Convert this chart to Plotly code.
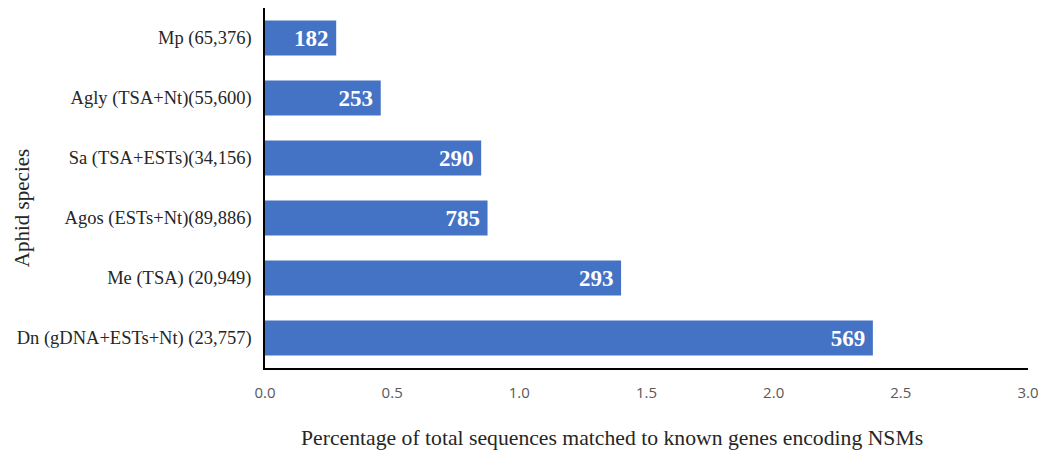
import plotly.graph_objects as go

# Aphid species with total sequence counts, bottom to top
species = [
    "Dn (gDNA+ESTs+Nt) (23,757)",
    "Me (TSA) (20,949)",
    "Agos (ESTs+Nt)(89,886)",
    "Sa (TSA+ESTs)(34,156)",
    "Agly (TSA+Nt)(55,600)",
    "Mp (65,376)",
]
# Percentage of sequences matched to NSM genes
percent_matched = [2.39, 1.40, 0.875, 0.85, 0.455, 0.28]
# Number of matched sequences (bar labels)
matched_counts = [569, 293, 785, 290, 253, 182]

x_title = "Percentage of total sequences matched to known genes encoding NSMs"
y_title = "Aphid species"

serif = "Liberation Serif, Times New Roman, serif"
sans = "Open Sans, Liberation Sans, sans-serif"

fig = go.Figure(
    go.Bar(
        x=percent_matched,
        y=species,
        orientation="h",
        marker=dict(color="#4472C4", line=dict(width=0)),
        width=0.58,
        text=[f"{c}\u2009" for c in matched_counts],
        textposition="inside",
        insidetextanchor="end",
        textangle=0,
        textfont=dict(family=serif, size=23, color="white", weight="bold"),
        cliponaxis=False,
    )
)

fig.update_layout(
    width=1043,
    height=450,
    margin=dict(l=265, r=15, t=8, b=82),
    paper_bgcolor="white",
    plot_bgcolor="white",
    showlegend=False,
    uniformtext=dict(mode=False),
    xaxis=dict(
        range=[0, 3.0],
        tickvals=[0, 0.5, 1.0, 1.5, 2.0, 2.5, 3.0],
        ticktext=["0.0", "0.5", "1.0", "1.5", "2.0", "2.5", "3.0"],
        tickfont=dict(family=sans, size=15, color="#595959"),
        showgrid=False,
        zeroline=False,
        showline=True,
        linecolor="black",
        linewidth=1.5,
        ticks="",
        ticklabelstandoff=10,
        automargin=False,
    ),
    yaxis=dict(
        categoryorder="array",
        categoryarray=species,
        range=[-0.5, 5.5],
        tickfont=dict(family=serif, size=18.5, color="#262626"),
        showgrid=False,
        zeroline=False,
        showline=True,
        linecolor="black",
        linewidth=1.5,
        ticks="",
        ticklabelstandoff=8,
        automargin=False,
    ),
    annotations=[
        dict(
            text=x_title,
            xref="paper", yref="paper",
            x=0.455, y=0,
            xanchor="center", yanchor="middle",
            yshift=-70,
            showarrow=False,
            font=dict(family=serif, size=21.7, color="#262626"),
        ),
        dict(
            text=y_title,
            xref="paper", yref="paper",
            x=0, y=0.444,
            xanchor="center", yanchor="middle",
            xshift=-243,
            textangle=-90,
            showarrow=False,
            font=dict(family=serif, size=21, color="#262626"),
        ),
    ],
)

fig.write_html("out.html")
